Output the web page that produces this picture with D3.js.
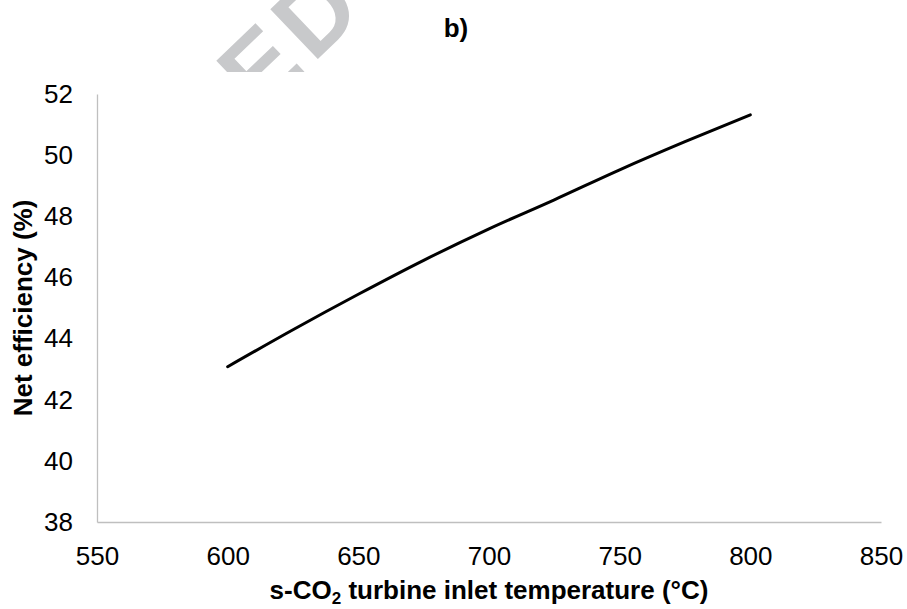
<!DOCTYPE html>
<html>
<head>
<meta charset="utf-8">
<script src="https://cdn.jsdelivr.net/npm/d3@7"></script>
<style>
  html, body { margin: 0; padding: 0; background: #fff; }
  svg { display: block; }
  text { font-family: "Liberation Sans", Arial, sans-serif; }
</style>
</head>
<body>
<svg id="chart" width="907" height="609"></svg>
<script>
// ---- data ----
const temperatures = [600, 625, 650, 675, 700, 725, 750, 775, 800];
const netEfficiency = [43.08, 44.29, 45.45, 46.56, 47.59, 48.54, 49.52, 50.44, 51.32];
const xTicks = [550, 600, 650, 700, 750, 800, 850];
const yTicks = [38, 40, 42, 44, 46, 48, 50, 52];
const chartTitle = "b)";
const yTitle = "Net efficiency (%)";
const watermarkText = "ED";

(function () {
const svg = d3.select("#chart");
const W = 907, H = 609;
const pLeft = 97, pRight = 881, pTop = 94, pBottom = 522;

// watermark fragment (clipped above the plot area)
svg.append("clipPath").attr("id", "wmclip")
  .append("rect").attr("x", 0).attr("y", 0).attr("width", W).attr("height", 72);
svg.append("g").attr("clip-path", "url(#wmclip)")
  .append("text")
  .attr("transform", "translate(259,115) rotate(-43.7)")
  .attr("font-size", 100)
  .attr("font-weight", "bold")
  .attr("letter-spacing", 8)
  .attr("fill", "#c8c9cb")
  .text(watermarkText);

const x = d3.scaleLinear().domain([550, 850]).range([pLeft, pRight]);
const y = d3.scaleLinear().domain([38, 52]).range([pBottom, pTop]);

const axisColor = "#bfbfbf";

// y axis
const gy = svg.append("g").attr("transform", `translate(${pLeft},0)`)
  .call(d3.axisLeft(y).tickValues(yTicks).tickSize(0).tickPadding(24).tickFormat(d3.format("d")));
gy.select(".domain").attr("stroke", axisColor).attr("stroke-width", 1.3);
gy.selectAll("text").attr("font-size", 26).attr("fill", "#000")
  .attr("font-family", "'Liberation Sans', Arial, sans-serif");

// x axis
const gx = svg.append("g").attr("transform", `translate(0,${pBottom})`)
  .call(d3.axisBottom(x).tickValues(xTicks).tickSize(0).tickPadding(25).tickFormat(d3.format("d")));
gx.select(".domain").attr("stroke", axisColor).attr("stroke-width", 1.3);
gx.selectAll("text").attr("font-size", 26).attr("fill", "#000")
  .attr("font-family", "'Liberation Sans', Arial, sans-serif");

// line
const line = d3.line()
  .x((d, i) => x(temperatures[i]))
  .y(d => y(d))
  .curve(d3.curveMonotoneX);
svg.append("path")
  .datum(netEfficiency)
  .attr("d", line)
  .attr("fill", "none")
  .attr("stroke", "#000")
  .attr("stroke-width", 3)
  .attr("stroke-linecap", "round")
  .attr("stroke-linejoin", "round");

// title
svg.append("text")
  .attr("x", 456).attr("y", 37)
  .attr("text-anchor", "middle")
  .attr("font-size", 26).attr("font-weight", "bold")
  .text(chartTitle);

// y title
svg.append("text")
  .attr("transform", `translate(32,${(pTop + pBottom) / 2}) rotate(-90)`)
  .attr("text-anchor", "middle")
  .attr("font-size", 26).attr("font-weight", "bold")
  .text(yTitle);

// x title with subscript
const xt = svg.append("text")
  .attr("x", (pLeft + pRight) / 2).attr("y", 599)
  .attr("text-anchor", "middle")
  .attr("font-size", 26).attr("font-weight", "bold");
xt.append("tspan").text("s-CO");
xt.append("tspan").attr("font-size", 17).attr("dy", 5).text("2");
xt.append("tspan").attr("dy", -5).text(" turbine inlet temperature (°C)");
})();
</script>
</body>
</html>
